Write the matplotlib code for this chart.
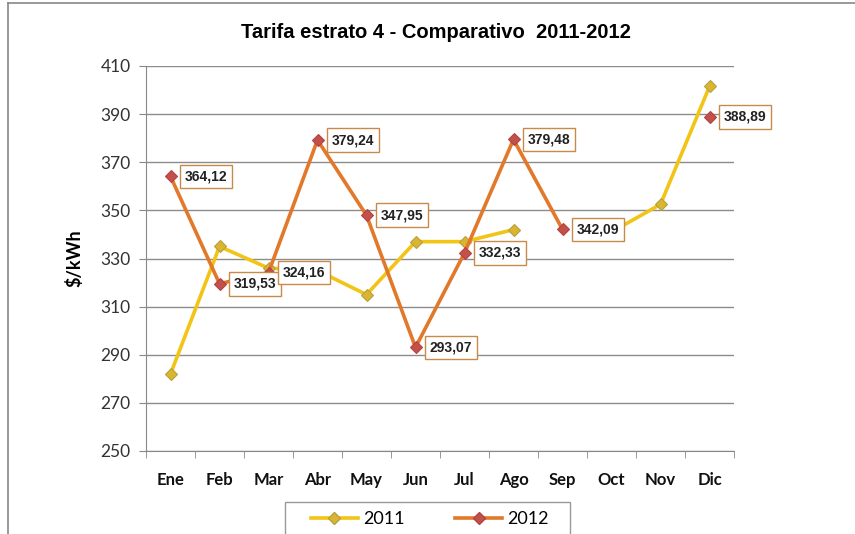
import numpy as np
import matplotlib
matplotlib.use("Agg")
import matplotlib.pyplot as plt
from matplotlib.lines import Line2D
from matplotlib.patches import Rectangle

meses = ['Ene', 'Feb', 'Mar', 'Abr', 'May', 'Jun', 'Jul', 'Ago', 'Sep', 'Oct', 'Nov', 'Dic']
tarifa_2011 = [282, 335, 326, 325, 315, 337, 337, 342, np.nan, 341, 352.5, 401.5]
tarifa_2012 = [364.12, 319.53, 324.16, 379.24, 347.95, 293.07, 332.33, 379.48, 342.09, np.nan, np.nan, 388.89]
y_ticks = [250, 270, 290, 310, 330, 350, 370, 390, 410]

amarillo = '#F2C416'
naranja = '#E2782A'

fig = plt.figure(figsize=(8.55, 5.34), dpi=100)
ax = fig.add_axes([146 / 855, 83 / 534, 588 / 855, 385 / 534])

x = np.arange(len(meses))
ax.plot(x, tarifa_2011, color=amarillo, lw=2.6, marker='D', ms=6.5,
        mfc='#D9B530', mec='#B8A040', mew=0.8, zorder=3)
ax.plot(x, tarifa_2012, color=naranja, lw=2.6, marker='D', ms=6.5,
        mfc='#C4504A', mec='#B04444', mew=0.8, zorder=4)

# etiquetas de valor para 2012
for xi, v in zip(x, tarifa_2012):
    if np.isnan(v):
        continue
    ax.annotate(f"{v:.2f}".replace('.', ','), (xi, v), xytext=(10, 0),
                textcoords='offset points', va='center', ha='left',
                fontsize=10, fontweight='bold', family='Liberation Sans', color='#222222',
                bbox=dict(boxstyle='square,pad=0.35', fc='white', ec='#C88A4A', lw=1.0),
                zorder=5)

ax.set_xlim(-0.5, len(meses) - 0.5)
ax.set_ylim(250, 410)
ax.set_yticks(y_ticks)
ax.set_yticklabels([str(t) for t in y_ticks], family='Lato', fontsize=12.5, color='#333333')
ax.set_xticks(x)
ax.set_xticklabels(meses, family='Lato', fontweight='bold', fontsize=12, color='#111111')
ax.set_xticks(np.arange(-0.5, len(meses)), minor=True)
ax.tick_params(axis='x', which='major', length=0, pad=15)
ax.tick_params(axis='x', which='minor', length=5, color='#888888')
ax.tick_params(axis='y', length=5, color='#888888', pad=6)
ax.grid(axis='y', color='#8C8C8C', lw=1.0)
ax.set_axisbelow(True)
for s in ['top', 'right']:
    ax.spines[s].set_visible(False)
for s in ['left', 'bottom']:
    ax.spines[s].set_color('#888888')

ax.set_ylabel('$/kWh', family='Lato', fontweight='bold', fontsize=13, labelpad=12)
fig.text(436 / 855, 1 - 33 / 534, 'Tarifa estrato 4 - Comparativo  2011-2012',
         ha='center', va='center', family='Liberation Sans', fontweight='bold', fontsize=14.5)

handles = [
    Line2D([], [], color=amarillo, lw=2.6, marker='D', ms=6, mfc='#D9B530', mec='#B8A040'),
    Line2D([], [], color=naranja, lw=2.6, marker='D', ms=6, mfc='#C4504A', mec='#B04444'),
]
fig.legend(handles, ['2011', '2012'], loc='center', bbox_to_anchor=(430 / 855, 1 - 519 / 534),
           ncol=2, frameon=False, prop={'family': 'Lato', 'size': 13},
           handlelength=2.6, handletextpad=0.3, columnspacing=2.8, borderpad=0)
# recuadro de la leyenda, cortado por el borde inferior
fig.add_artist(Rectangle((285 / 855, -0.05), 285 / 855, 0.05 + 32 / 534, transform=fig.transFigure,
                         fill=False, ec='#999999', lw=1.0))

# marco del gráfico
fig.add_artist(Line2D([8 / 855, 1], [1 - 3 / 534] * 2, color='#888888', lw=1.2))
fig.add_artist(Line2D([8 / 855] * 2, [0, 1 - 3 / 534], color='#888888', lw=1.2))

fig.savefig('out.png', dpi=100)
